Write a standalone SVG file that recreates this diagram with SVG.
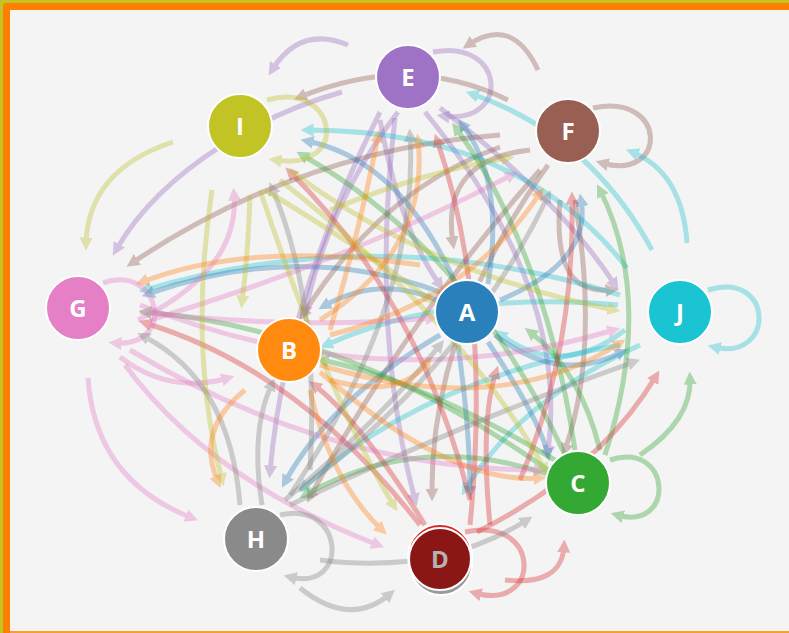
<svg xmlns="http://www.w3.org/2000/svg" width="789" height="633" viewBox="0 0 789 633">
<defs>
<style>
.l{fill:none;stroke-width:5;opacity:.35}
.a{stroke:#1f77b4;marker-end:url(#mA)}
.b{stroke:#ff7f0e;marker-end:url(#mB)}
.c{stroke:#2ca02c;marker-end:url(#mC)}
.d{stroke:#d62728;marker-end:url(#mD)}
.e{stroke:#9467bd;marker-end:url(#mE)}
.f{stroke:#8c564b;marker-end:url(#mF)}
.g{stroke:#e377c2;marker-end:url(#mG)}
.h{stroke:#7f7f7f;marker-end:url(#mH)}
.i{stroke:#bcbd22;marker-end:url(#mI)}
.j{stroke:#17becf;marker-end:url(#mJ)}
.n circle{stroke:#fff;stroke-width:2}
.n text{font-family:"Open Sans","DejaVu Sans",sans-serif;font-weight:700;font-size:24px;fill:#fff;text-anchor:middle}
</style>
<marker id="mA" viewBox="0 -5 10 10" refX="5" markerUnits="userSpaceOnUse" markerWidth="13" markerHeight="13" orient="auto"><path d="M0,-5L10,0L0,5Z" fill="#1f77b4"/></marker>
<marker id="mB" viewBox="0 -5 10 10" refX="5" markerUnits="userSpaceOnUse" markerWidth="13" markerHeight="13" orient="auto"><path d="M0,-5L10,0L0,5Z" fill="#ff7f0e"/></marker>
<marker id="mC" viewBox="0 -5 10 10" refX="5" markerUnits="userSpaceOnUse" markerWidth="13" markerHeight="13" orient="auto"><path d="M0,-5L10,0L0,5Z" fill="#2ca02c"/></marker>
<marker id="mD" viewBox="0 -5 10 10" refX="5" markerUnits="userSpaceOnUse" markerWidth="13" markerHeight="13" orient="auto"><path d="M0,-5L10,0L0,5Z" fill="#d62728"/></marker>
<marker id="mE" viewBox="0 -5 10 10" refX="5" markerUnits="userSpaceOnUse" markerWidth="13" markerHeight="13" orient="auto"><path d="M0,-5L10,0L0,5Z" fill="#9467bd"/></marker>
<marker id="mF" viewBox="0 -5 10 10" refX="5" markerUnits="userSpaceOnUse" markerWidth="13" markerHeight="13" orient="auto"><path d="M0,-5L10,0L0,5Z" fill="#8c564b"/></marker>
<marker id="mG" viewBox="0 -5 10 10" refX="5" markerUnits="userSpaceOnUse" markerWidth="13" markerHeight="13" orient="auto"><path d="M0,-5L10,0L0,5Z" fill="#e377c2"/></marker>
<marker id="mH" viewBox="0 -5 10 10" refX="5" markerUnits="userSpaceOnUse" markerWidth="13" markerHeight="13" orient="auto"><path d="M0,-5L10,0L0,5Z" fill="#7f7f7f"/></marker>
<marker id="mI" viewBox="0 -5 10 10" refX="5" markerUnits="userSpaceOnUse" markerWidth="13" markerHeight="13" orient="auto"><path d="M0,-5L10,0L0,5Z" fill="#bcbd22"/></marker>
<marker id="mJ" viewBox="0 -5 10 10" refX="5" markerUnits="userSpaceOnUse" markerWidth="13" markerHeight="13" orient="auto"><path d="M0,-5L10,0L0,5Z" fill="#17becf"/></marker>
</defs>
<rect x="0" y="0" width="789" height="633" fill="#c3c322"/>
<rect x="3" y="3" width="790" height="634" rx="3" fill="#ff7f00"/>
<rect x="10" y="10" width="779" height="621" fill="#f4f4f4"/>
<rect x="10" y="631" width="779" height="2" fill="#ff9a30"/>
<g id="connectors">
<path class="l e" d="M348,45 Q300,25 272,70"/>
<path class="l e" d="M433,52 C505,38 512,125 443,116"/>
<path class="l e" d="M342,92 C270,112 165,165 116,250"/>
<path class="l e" d="M380,112 Q285,300 270,472"/>
<path class="l e" d="M395,118 Q370,330 415,500"/>
<path class="l e" d="M398,112 Q330,200 305,312"/>
<path class="l e" d="M425,112 Q570,290 548,452"/>
<path class="l e" d="M440,108 Q560,200 615,285"/>
<path class="l e" d="M380,120 Q400,230 440,285"/>
<path class="l f" d="M508,100 Q410,52 300,97"/>
<path class="l f" d="M538,70 Q512,15 468,45"/>
<path class="l f" d="M593,108 C668,92 668,182 602,163"/>
<path class="l f" d="M500,135 Q300,150 132,263"/>
<path class="l f" d="M500,147 Q380,190 303,315"/>
<path class="l f" d="M560,200 C553,285 585,292 612,290"/>
<path class="l f" d="M530,150 Q440,160 453,243"/>
<path class="l f" d="M540,170 Q400,330 310,497"/>
<path class="l f" d="M548,165 Q430,330 432,495"/>
<path class="l f" d="M575,200 Q600,350 565,450"/>
<path class="l j" d="M652,250 Q590,135 472,94"/>
<path class="l j" d="M687,243 Q682,172 632,152"/>
<path class="l j" d="M627,268 Q520,130 307,130"/>
<path class="l j" d="M620,295 Q380,220 145,290"/>
<path class="l j" d="M620,345 Q420,380 303,488"/>
<path class="l j" d="M640,345 Q520,400 465,490"/>
<path class="l j" d="M618,305 Q450,290 326,345"/>
<path class="l j" d="M708,290 C775,270 775,362 714,347"/>
<path class="l j" d="M625,330 Q560,380 500,334"/>
<path class="l a" d="M455,282 Q400,160 307,141"/>
<path class="l a" d="M440,292 Q300,240 148,294"/>
<path class="l a" d="M488,284 Q505,180 462,124"/>
<path class="l a" d="M500,300 Q592,262 581,200"/>
<path class="l a" d="M495,335 Q560,385 622,352"/>
<path class="l a" d="M436,300 Q380,275 324,306"/>
<path class="l a" d="M488,342 Q540,420 548,455"/>
<path class="l a" d="M458,345 Q470,430 470,492"/>
<path class="l a" d="M440,335 Q330,400 285,482"/>
<path class="l c" d="M605,455 Q655,300 600,190"/>
<path class="l c" d="M565,455 Q470,250 302,155"/>
<path class="l c" d="M575,450 Q545,250 456,128"/>
<path class="l c" d="M548,470 Q350,330 145,312"/>
<path class="l c" d="M600,450 Q580,370 530,332"/>
<path class="l c" d="M610,460 C672,440 676,532 617,515"/>
<path class="l c" d="M640,455 Q692,420 690,378"/>
<path class="l c" d="M550,475 Q420,430 305,495"/>
<path class="l c" d="M555,460 Q420,380 322,360"/>
<path class="l d" d="M470,500 Q420,300 290,172"/>
<path class="l d" d="M470,525 Q492,300 437,140"/>
<path class="l d" d="M520,480 Q575,350 572,198"/>
<path class="l d" d="M420,525 Q300,370 145,323"/>
<path class="l d" d="M490,525 Q480,420 496,372"/>
<path class="l d" d="M465,532 C542,515 542,612 475,593"/>
<path class="l d" d="M505,580 Q562,586 564,546"/>
<path class="l d" d="M477,532 Q600,470 656,376"/>
<path class="l d" d="M425,525 Q360,420 314,385"/>
<path class="l g" d="M103,283 C160,263 178,347 115,343"/>
<path class="l g" d="M88,378 Q95,480 192,518"/>
<path class="l g" d="M120,357 Q170,395 228,378"/>
<path class="l g" d="M125,365 Q210,480 378,545"/>
<path class="l g" d="M138,320 Q240,270 234,194"/>
<path class="l g" d="M150,320 Q350,260 512,175"/>
<path class="l g" d="M140,305 Q380,400 614,330"/>
<path class="l g" d="M140,312 Q300,330 432,318"/>
<path class="l g" d="M130,350 Q330,470 540,470"/>
<path class="l h" d="M280,515 C345,500 350,592 290,577"/>
<path class="l h" d="M300,588 Q350,628 390,594"/>
<path class="l h" d="M320,560 Q440,575 527,520"/>
<path class="l h" d="M290,505 Q470,420 634,362"/>
<path class="l h" d="M240,505 Q230,380 143,336"/>
<path class="l h" d="M310,470 Q320,300 272,188"/>
<path class="l h" d="M300,490 Q470,360 548,196"/>
<path class="l h" d="M290,495 Q420,300 410,135"/>
<path class="l h" d="M285,500 Q380,420 440,345"/>
<path class="l h" d="M262,505 Q250,430 272,384"/>
<path class="l i" d="M267,100 C337,80 352,172 275,160"/>
<path class="l i" d="M173,142 Q88,170 86,244"/>
<path class="l i" d="M212,190 Q188,350 222,480"/>
<path class="l i" d="M250,195 Q248,255 242,302"/>
<path class="l i" d="M290,170 Q420,270 614,310"/>
<path class="l i" d="M330,210 Q430,170 508,158"/>
<path class="l i" d="M260,190 Q330,400 394,506"/>
<path class="l i" d="M265,190 Q380,260 430,300"/>
<path class="l i" d="M280,180 Q470,330 545,470"/>
<path class="l b" d="M420,265 Q250,240 142,282"/>
<path class="l b" d="M330,335 Q470,300 540,193"/>
<path class="l b" d="M330,330 Q360,230 378,136"/>
<path class="l b" d="M320,320 Q430,250 418,140"/>
<path class="l b" d="M245,390 Q195,430 218,482"/>
<path class="l b" d="M310,390 Q330,480 382,530"/>
<path class="l b" d="M330,380 Q400,400 428,362"/>
<path class="l b" d="M320,365 Q500,420 620,343"/>
<path class="l b" d="M320,372 Q450,485 540,478"/>
</g>
<g id="node-E" class="n"><circle cx="408" cy="77" r="32" fill="#9e72c4"/><text x="408" y="86">E</text></g>
<g id="node-I" class="n"><circle cx="240" cy="126" r="32" fill="#c2c425"/><text x="240" y="135">I</text></g>
<g id="node-F" class="n"><circle cx="568" cy="131" r="32" fill="#9a5f53"/><text x="568" y="140">F</text></g>
<g id="node-G" class="n"><circle cx="78" cy="308" r="32" fill="#e580c7"/><text x="78" y="317">G</text></g>
<g id="node-B" class="n"><circle cx="289" cy="350" r="32" fill="#ff8a0f"/><text x="289" y="359">B</text></g>
<g id="node-A" class="n"><circle cx="467" cy="312" r="32" fill="#2a80ba"/><text x="467" y="321">A</text></g>
<g id="node-J" class="n"><circle cx="680" cy="312" r="32" fill="#1bc4d2"/><text x="680" y="321">J</text></g>
<g id="node-C" class="n"><circle cx="578" cy="483" r="32" fill="#33a833"/><text x="578" y="492">C</text></g>
<g id="node-H" class="n"><circle cx="256" cy="539" r="32" fill="#8a8a8a"/><text x="256" y="548">H</text></g>
<g id="node-D" class="n">
<circle cx="440" cy="556" r="32" fill="#d62728" stroke="none"/>
<circle cx="441" cy="564" r="31" fill="#9a9a9a" stroke="none"/>
<circle cx="440" cy="559" r="31" fill="#8b1616"/>
<text x="440" y="568" style="fill:#b4b4b4">D</text>
</g>
</svg>
